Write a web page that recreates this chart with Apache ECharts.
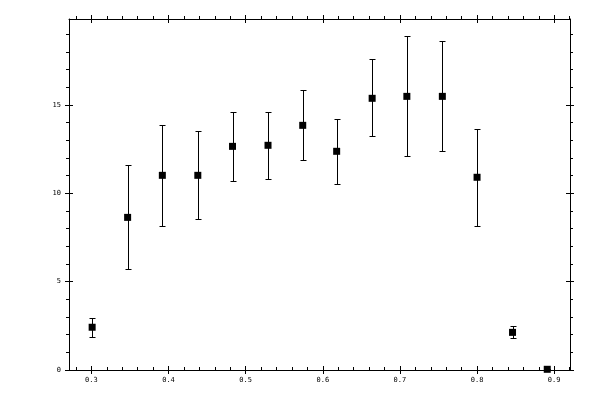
<!DOCTYPE html>
<html>
<head>
<meta charset="utf-8">
<script src="https://cdn.jsdelivr.net/npm/echarts@6/dist/echarts.min.js"></script>
<style>
html,body{margin:0;padding:0;background:#fff;}
#c{width:600px;height:400px;}
</style>
</head>
<body>
<div id="c"></div>
<script>
// ---- data ----
var xValues = [0.301, 0.347, 0.392, 0.438, 0.483, 0.529, 0.574, 0.618, 0.664, 0.709, 0.755, 0.800, 0.846, 0.891];
var yValues = [2.42, 8.64, 11.02, 11.02, 12.66, 12.72, 13.85, 12.38, 15.38, 15.49, 15.49, 10.91, 2.13, 0.04];
var errLow  = [1.87, 5.70, 8.13, 8.53, 10.68, 10.79, 11.87, 10.51, 13.23, 12.09, 12.38, 8.13, 1.79, 0.04];
var errHigh = [2.93, 11.59, 13.89, 13.51, 14.59, 14.59, 15.83, 14.19, 17.59, 18.89, 18.60, 13.62, 2.47, 0.04];

var xMajorTicks = [0.3, 0.4, 0.5, 0.6, 0.7, 0.8, 0.9];
var xMinorTicks = [0.28, 0.32, 0.34, 0.36, 0.38, 0.42, 0.44, 0.46, 0.48, 0.52, 0.54, 0.56, 0.58,
                   0.62, 0.64, 0.66, 0.68, 0.72, 0.74, 0.76, 0.78, 0.82, 0.84, 0.86, 0.88, 0.92];
var yMajorTicks = [0, 5, 10, 15];
var yMinorTicks = [1, 2, 3, 4, 6, 7, 8, 9, 11, 12, 13, 14, 16, 17, 18, 19];

var X_MIN = 0.271, X_MAX = 0.9205, Y_MIN = 0, Y_MAX = 19.87;

var points = xValues.map(function (x, i) { return [x, yValues[i]]; });
var bars = xValues.map(function (x, i) { return [x, errLow[i], errHigh[i]]; });

var font = { fontFamily: 'DejaVu Sans Mono', fontSize: 7, color: '#000' };
var lineStyle = { color: '#000', width: 1 };

function axis(kind, pos, opts) {
  var a = {
    type: 'value',
    position: pos,
    min: kind === 'x' ? X_MIN : Y_MIN,
    max: kind === 'x' ? X_MAX : Y_MAX,
    splitLine: { show: false },
    minorTick: { show: false },
    axisLine: { show: !!opts.line, onZero: false, lineStyle: lineStyle },
    axisLabel: { show: false },
    axisTick: {
      show: true,
      inside: !!opts.inside,
      length: opts.len,
      lineStyle: lineStyle,
      customValues: opts.ticks
    }
  };
  if (opts.labels) {
    a.axisLabel = Object.assign({
      show: true,
      margin: opts.margin,
      customValues: opts.ticks
    }, font);
  }
  return a;
}

var chart = echarts.init(document.getElementById('c'), null, { renderer: 'canvas' });
chart.setOption({
  animation: false,
  backgroundColor: '#fff',
  grid: { left: 69, top: 19, right: 30, bottom: 30, containLabel: false },
  xAxis: [
    axis('x', 'bottom', { line: true, labels: true, margin: 7, inside: true, len: 4, ticks: xMajorTicks }),
    axis('x', 'bottom', { inside: false, len: 4, ticks: xMajorTicks }),
    axis('x', 'bottom', { inside: true, len: 3, ticks: xMinorTicks }),
    axis('x', 'top', { line: true, inside: false, len: 4, ticks: xMajorTicks }),
    axis('x', 'top', { inside: true, len: 4, ticks: xMajorTicks }),
    axis('x', 'top', { inside: false, len: 3, ticks: xMinorTicks })
  ],
  yAxis: [
    axis('y', 'left', { line: true, labels: true, margin: 8, inside: false, len: 4, ticks: yMajorTicks }),
    axis('y', 'left', { inside: true, len: 4, ticks: yMajorTicks }),
    axis('y', 'left', { inside: false, len: 3, ticks: yMinorTicks }),
    axis('y', 'right', { line: true, inside: false, len: 4, ticks: yMajorTicks }),
    axis('y', 'right', { inside: true, len: 4, ticks: yMajorTicks }),
    axis('y', 'right', { inside: false, len: 3, ticks: yMinorTicks })
  ],
  series: [
    {
      type: 'custom',
      xAxisIndex: 0,
      yAxisIndex: 0,
      data: bars,
      encode: { x: 0, y: [1, 2] },
      clip: false,
      z: 2,
      renderItem: function (params, api) {
        var x = api.value(0);
        var lo = api.coord([x, api.value(1)]);
        var hi = api.coord([x, api.value(2)]);
        var cx = Math.round(lo[0]) + 0.5;
        var yl = Math.round(lo[1]) + 0.5;
        var yh = Math.round(hi[1]) + 0.5;
        var cap = 2.5;
        var st = { stroke: '#000', lineWidth: 1 };
        return {
          type: 'group',
          children: [
            { type: 'line', shape: { x1: cx, y1: yl, x2: cx, y2: yh }, style: st },
            { type: 'line', shape: { x1: cx - cap - 0.5, y1: yl, x2: cx + cap + 0.5, y2: yl }, style: st },
            { type: 'line', shape: { x1: cx - cap - 0.5, y1: yh, x2: cx + cap + 0.5, y2: yh }, style: st }
          ]
        };
      }
    },
    {
      type: 'scatter',
      xAxisIndex: 0,
      yAxisIndex: 0,
      data: points,
      symbol: 'rect',
      symbolSize: 7,
      clip: false,
      z: 3,
      itemStyle: { color: '#000', opacity: 1 }
    }
  ]
});
</script>
</body>
</html>
